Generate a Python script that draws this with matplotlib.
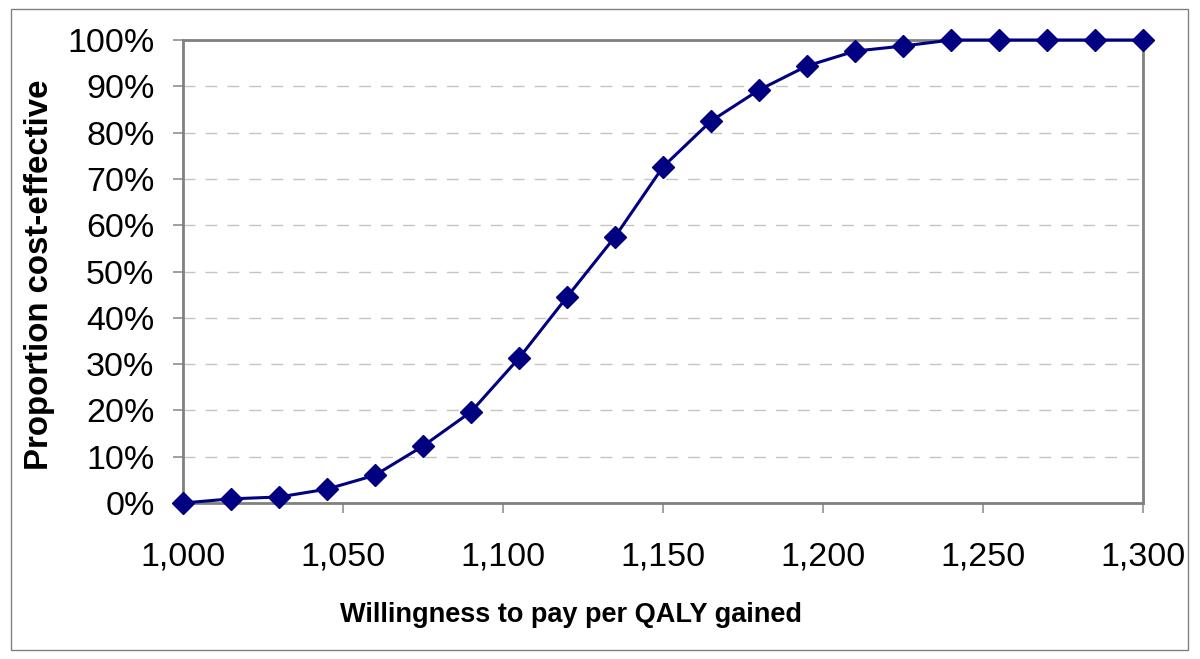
import matplotlib.pyplot as plt
from matplotlib.ticker import FuncFormatter, MultipleLocator
from matplotlib.patches import Rectangle

plt.rcParams["font.family"] = ["Liberation Sans", "DejaVu Sans"]

# willingness to pay values and proportion cost-effective (%)
wtp = [1000, 1015, 1030, 1045, 1060, 1075, 1090, 1105, 1120, 1135, 1150,
       1165, 1180, 1195, 1210, 1225, 1240, 1255, 1270, 1285, 1300]
proportion = [0.0, 0.9, 1.3, 3.0, 6.0, 12.3, 19.7, 31.3, 44.5, 57.5, 72.6,
              82.5, 89.2, 94.4, 97.6, 98.7, 100, 100, 100, 100, 100]

fig = plt.figure(figsize=(12, 6.59), dpi=100)
ax = fig.add_axes([0.1525, 0.2367, 0.8, 0.7026])

# outer border of the chart
fig.patches.append(Rectangle((0.009, 0.013), 0.981, 0.973, transform=fig.transFigure,
                             fill=False, edgecolor="#808080", linewidth=1.0))

ax.plot(wtp, proportion, marker="D", color="#000080", linewidth=2.2,
        markersize=11, clip_on=False, zorder=3)

ax.set_xlim(1000, 1300)
ax.set_ylim(0, 100)
ax.xaxis.set_major_locator(MultipleLocator(50))
ax.yaxis.set_major_locator(MultipleLocator(10))
ax.xaxis.set_major_formatter(FuncFormatter(lambda v, p: f"{int(v):,}"))
ax.yaxis.set_major_formatter(FuncFormatter(lambda v, p: f"{int(v)}%"))

ax.grid(True, axis="y", linestyle=(0, (8.6, 7.2)), color="#c4c4c4", linewidth=1.0)
ax.set_axisbelow(True)

for s in ax.spines.values():
    s.set_color("#808080")
    s.set_linewidth(2.0)

ax.tick_params(axis="both", direction="out", length=7.5, width=1.2,
               color="#909090", labelsize=24.5)
ax.tick_params(axis="x", pad=20)
ax.tick_params(axis="y", pad=13)

fig.text(571 / 1200, 1 - 615 / 659, "Willingness to pay per QALY gained",
         fontsize=19.5, fontweight="bold", ha="center", va="center")
fig.text(40 / 1200, 1 - 275 / 659, "Proportion cost-effective",
         fontsize=23.8, fontweight="bold", rotation=90,
         ha="center", va="center")

plt.savefig("out.png", dpi=100)
